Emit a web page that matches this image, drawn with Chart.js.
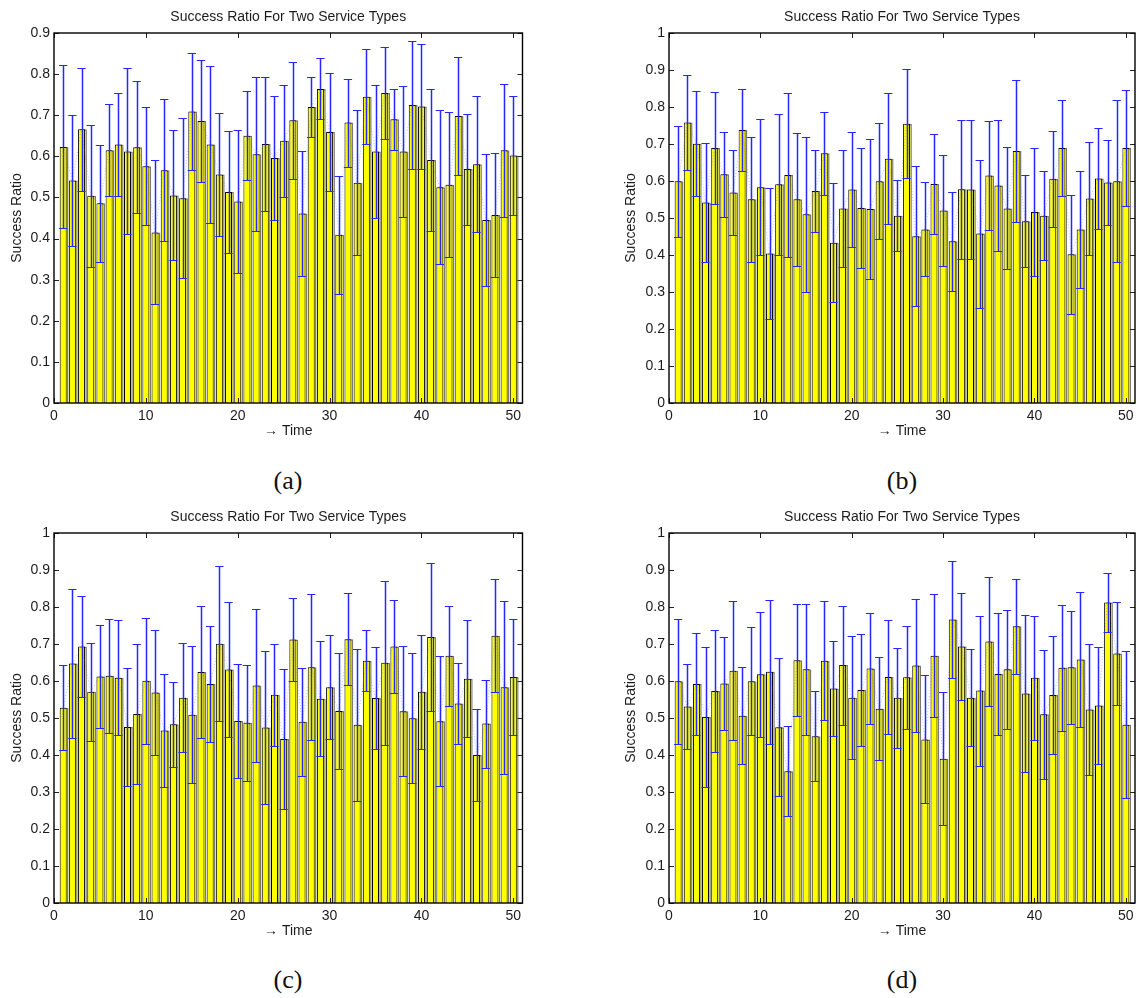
<!DOCTYPE html>
<html lang="en">
<head>
<meta charset="UTF-8">
<title>Success Ratio For Two Service Types</title>
<style>
  html, body { margin: 0; padding: 0; background: #fff; overflow: hidden; }
  #page { position: relative; width: 1136px; height: 998px; overflow: hidden; }
  canvas { position: absolute; }
  .cap {
    position: absolute; width: 120px; margin-left: -60px; text-align: center;
    font-family: "Liberation Serif", serif; font-size: 26px; line-height: 30px; color: #111;
  }
</style>
</head>
<body>
<div id="page">
  <canvas id="chartA" width="577" height="445" style="left:0px;top:0px"></canvas>
  <canvas id="chartB" width="577" height="445" style="left:614px;top:0px"></canvas>
  <canvas id="chartC" width="577" height="445" style="left:0px;top:500px"></canvas>
  <canvas id="chartD" width="577" height="445" style="left:614px;top:500px"></canvas>
  <div class="cap" style="left:288px;top:466px">(a)</div>
  <div class="cap" style="left:902px;top:466px">(b)</div>
  <div class="cap" style="left:288px;top:965px">(c)</div>
  <div class="cap" style="left:902px;top:965px">(d)</div>
</div>

<script src="https://cdn.jsdelivr.net/npm/chart.js"></script>
<script>
// time steps (categories)
const timeSteps = [1, 2, 3, 4, 5, 6, 7, 8, 9, 10, 11, 12, 13, 14, 15, 16, 17, 18, 19, 20,
                   21, 22, 23, 24, 25, 26, 27, 28, 29, 30, 31, 32, 33, 34, 35, 36, 37, 38, 39, 40,
                   41, 42, 43, 44, 45, 46, 47, 48, 49, 50];

// panel (a)
const ratioA = [0.623, 0.541, 0.666, 0.504, 0.486, 0.615, 0.629, 0.612, 0.622, 0.576,
                0.415, 0.566, 0.505, 0.498, 0.709, 0.686, 0.629, 0.556, 0.513, 0.490,
                0.650, 0.605, 0.630, 0.596, 0.638, 0.688, 0.461, 0.720, 0.764, 0.659,
                0.409, 0.682, 0.536, 0.745, 0.612, 0.754, 0.690, 0.612, 0.725, 0.721,
                0.591, 0.525, 0.531, 0.698, 0.569, 0.581, 0.445, 0.457, 0.615, 0.602];
const errA = [0.198, 0.160, 0.150, 0.173, 0.142, 0.112, 0.125, 0.202, 0.161, 0.143,
              0.175, 0.173, 0.158, 0.195, 0.142, 0.148, 0.190, 0.150, 0.149, 0.174,
              0.108, 0.187, 0.162, 0.150, 0.136, 0.142, 0.152, 0.073, 0.074, 0.143,
              0.144, 0.107, 0.176, 0.115, 0.162, 0.111, 0.075, 0.160, 0.155, 0.153,
              0.173, 0.188, 0.176, 0.144, 0.135, 0.166, 0.160, 0.151, 0.162, 0.144];

// panel (b)
const ratioB = [0.599, 0.758, 0.701, 0.542, 0.689, 0.618, 0.569, 0.738, 0.551, 0.583,
                0.404, 0.591, 0.616, 0.551, 0.510, 0.573, 0.675, 0.433, 0.526, 0.577,
                0.527, 0.524, 0.599, 0.660, 0.506, 0.755, 0.451, 0.469, 0.592, 0.520,
                0.437, 0.578, 0.577, 0.458, 0.615, 0.588, 0.526, 0.681, 0.491, 0.516,
                0.506, 0.606, 0.689, 0.402, 0.469, 0.553, 0.607, 0.596, 0.599, 0.689];
const errB = [0.151, 0.129, 0.141, 0.160, 0.151, 0.115, 0.116, 0.112, 0.169, 0.184,
              0.178, 0.190, 0.222, 0.180, 0.209, 0.112, 0.112, 0.161, 0.159, 0.156,
              0.161, 0.190, 0.157, 0.177, 0.096, 0.148, 0.190, 0.127, 0.134, 0.149,
              0.134, 0.188, 0.189, 0.200, 0.147, 0.178, 0.165, 0.193, 0.124, 0.172,
              0.120, 0.130, 0.129, 0.161, 0.159, 0.152, 0.137, 0.115, 0.219, 0.157];

// panel (c)
const ratioC = [0.528, 0.647, 0.693, 0.571, 0.612, 0.614, 0.609, 0.476, 0.511, 0.601,
                0.569, 0.466, 0.483, 0.555, 0.509, 0.624, 0.592, 0.701, 0.631, 0.492,
                0.487, 0.588, 0.474, 0.563, 0.443, 0.712, 0.490, 0.637, 0.552, 0.583,
                0.519, 0.713, 0.482, 0.655, 0.554, 0.649, 0.693, 0.518, 0.499, 0.571,
                0.719, 0.491, 0.668, 0.539, 0.606, 0.400, 0.485, 0.722, 0.583, 0.611];
const errC = [0.114, 0.202, 0.137, 0.133, 0.140, 0.154, 0.156, 0.160, 0.190, 0.170,
              0.170, 0.152, 0.115, 0.147, 0.185, 0.178, 0.157, 0.209, 0.182, 0.155,
              0.157, 0.207, 0.207, 0.138, 0.190, 0.113, 0.146, 0.197, 0.155, 0.141,
              0.156, 0.124, 0.205, 0.083, 0.138, 0.222, 0.125, 0.176, 0.176, 0.154,
              0.201, 0.176, 0.136, 0.109, 0.158, 0.123, 0.119, 0.153, 0.233, 0.156];

// panel (d)
const ratioD = [0.599, 0.531, 0.592, 0.503, 0.573, 0.593, 0.628, 0.506, 0.599, 0.618,
                0.625, 0.475, 0.356, 0.656, 0.632, 0.451, 0.655, 0.580, 0.643, 0.555,
                0.576, 0.634, 0.525, 0.611, 0.555, 0.610, 0.642, 0.442, 0.668, 0.390,
                0.766, 0.693, 0.555, 0.574, 0.707, 0.619, 0.632, 0.748, 0.566, 0.609,
                0.510, 0.562, 0.636, 0.637, 0.658, 0.523, 0.534, 0.812, 0.674, 0.482];
const errD = [0.168, 0.114, 0.138, 0.189, 0.164, 0.125, 0.187, 0.131, 0.146, 0.169,
              0.195, 0.187, 0.122, 0.151, 0.177, 0.121, 0.160, 0.128, 0.161, 0.167,
              0.152, 0.150, 0.139, 0.153, 0.135, 0.139, 0.180, 0.173, 0.166, 0.179,
              0.157, 0.145, 0.132, 0.203, 0.175, 0.166, 0.161, 0.128, 0.212, 0.168,
              0.175, 0.160, 0.170, 0.153, 0.182, 0.178, 0.157, 0.079, 0.140, 0.198];

// tick labels
const xTicks = [0, 10, 20, 30, 40, 50];
const yTicksTo09 = [0, 0.1, 0.2, 0.3, 0.4, 0.5, 0.6, 0.7, 0.8, 0.9];
const yTicksTo1 = [0, 0.1, 0.2, 0.3, 0.4, 0.5, 0.6, 0.7, 0.8, 0.9, 1];

const titleText = 'Success Ratio For Two Service Types';
const textColor = '#1c1c1c';
const baseFont = { family: '"Liberation Sans", Arial, sans-serif', size: 14 };

Chart.defaults.font.family = baseFont.family;
Chart.defaults.color = textColor;

// error bars + matlab style box with inward ticks
const matlabFrame = {
    id: 'matlabFrame',
    afterDatasetsDraw(chart, args, opts) {
        const ctx = chart.ctx;
        const xs = chart.scales.x, ys = chart.scales.y;
        ctx.save();
        ctx.strokeStyle = '#2626ff';
        opts.mean.forEach((m, i) => {
            const t = opts.time[i];
            const px = Math.round(xs.getPixelForValue(t)) + 0.5;
            const lo = Math.round(ys.getPixelForValue(m - opts.err[i])) + 0.5;
            const hi = Math.round(ys.getPixelForValue(m + opts.err[i])) + 0.5;
            const c0 = xs.getPixelForValue(t - 0.45);
            const c1 = xs.getPixelForValue(t + 0.45);
            ctx.lineWidth = 1.5;
            ctx.beginPath();
            ctx.moveTo(px, lo); ctx.lineTo(px, hi);
            ctx.stroke();
            ctx.lineWidth = 1.2;
            ctx.beginPath();
            ctx.moveTo(c0, lo); ctx.lineTo(c1, lo);
            ctx.moveTo(c0, hi); ctx.lineTo(c1, hi);
            ctx.stroke();
        });
        ctx.restore();
    },
    afterDraw(chart) {
        const ctx = chart.ctx;
        const a = chart.chartArea;
        const xs = chart.scales.x, ys = chart.scales.y;
        const len = 5;
        ctx.save();
        ctx.strokeStyle = '#222';
        ctx.lineWidth = 1;
        ctx.beginPath();
        ys.ticks.forEach(tk => {
            const py = Math.round(ys.getPixelForValue(tk.value)) + 0.5;
            ctx.moveTo(a.left, py); ctx.lineTo(a.left + len, py);
            ctx.moveTo(a.right, py); ctx.lineTo(a.right - len, py);
        });
        xs.ticks.forEach(tk => {
            const px = Math.round(xs.getPixelForValue(tk.value)) + 0.5;
            ctx.moveTo(px, a.bottom); ctx.lineTo(px, a.bottom - len);
            ctx.moveTo(px, a.top); ctx.lineTo(px, a.top + len);
        });
        ctx.stroke();
        ctx.strokeStyle = '#000';
        ctx.lineWidth = 1.4;
        ctx.strokeRect(a.left, a.top, a.right - a.left, a.bottom - a.top);
        ctx.restore();
    }
};

function makePanel(id, ratio, err, yMax, yTicks, axisWidth, padRight) {
    const points = timeSteps.map((t, i) => ({ x: t, y: ratio[i] }));
    return new Chart(document.getElementById(id), {
        type: 'bar',
        data: {
            datasets: [
                {
                    type: 'line',
                    data: points,
                    borderColor: 'rgba(80, 80, 255, 0.35)',
                    borderWidth: 1,
                    borderDash: [1, 2],
                    pointRadius: 0,
                    fill: false,
                    order: 0
                },
                {
                    data: points,
                    xAxisID: 'x',
                    grouped: false,
                    backgroundColor: '#ffff00',
                    borderColor: '#000000',
                    borderWidth: 1,
                    borderSkipped: 'bottom',
                    barPercentage: 0.76,
                    categoryPercentage: 1,
                    order: 1
                },
                {
                    data: points,
                    xAxisID: 'xb',
                    grouped: false,
                    backgroundColor: '#ffff00',
                    borderColor: '#7a7a7a',
                    borderWidth: 1.5,
                    borderSkipped: 'bottom',
                    barPercentage: 0.76,
                    categoryPercentage: 1,
                    order: 2
                }
            ]
        },
        options: {
            responsive: false,
            animation: false,
            layout: { padding: { left: 0, right: padRight, top: 0, bottom: 0 } },
            scales: {
                x: {
                    type: 'linear',
                    min: 0,
                    max: 51,
                    offset: false,
                    afterBuildTicks: s => { s.ticks = xTicks.map(v => ({ value: v })); },
                    afterFit: s => { s.height = 42; },
                    grid: { display: false, drawTicks: false, offset: false },
                    border: { display: false },
                    ticks: { padding: 5, maxRotation: 0, autoSkip: false, font: baseFont, color: textColor,
                             callback: v => String(v) },
                    title: { display: true, text: '\u2192 Time', font: baseFont, color: textColor, padding: { top: 0, bottom: 5.6 } }
                },
                xb: {
                    type: 'linear',
                    display: false,
                    offset: false,
                    grid: { offset: false },
                    min: -0.2,
                    max: 50.8
                },
                y: {
                    min: 0,
                    max: yMax,
                    afterBuildTicks: s => { s.ticks = yTicks.map(v => ({ value: v })); },
                    afterFit: s => { s.width = axisWidth; },
                    grid: { display: false, drawTicks: false },
                    border: { display: false },
                    ticks: { padding: 4, font: baseFont, color: textColor, callback: v => String(v) },
                    title: { display: true, text: 'Success Ratio', font: baseFont, color: textColor, padding: { top: 8.6, bottom: 0 } }
                }
            },
            plugins: {
                legend: { display: false },
                tooltip: { enabled: false },
                title: {
                    display: true,
                    fullSize: false,
                    text: titleText,
                    font: { family: baseFont.family, size: 14, weight: 'normal' },
                    color: textColor,
                    padding: { top: 9, bottom: 7.2 }
                },
                matlabFrame: { time: timeSteps, mean: ratio, err: err }
            }
        },
        plugins: [matlabFrame]
    });
}

makePanel('chartA', ratioA, errA, 0.9, yTicksTo09, 54, 54.5);
makePanel('chartB', ratioB, errB, 1, yTicksTo1, 55, 56);
makePanel('chartC', ratioC, errC, 1, yTicksTo1, 54, 54.5);
makePanel('chartD', ratioD, errD, 1, yTicksTo1, 55, 56);
</script>
</body>
</html>
